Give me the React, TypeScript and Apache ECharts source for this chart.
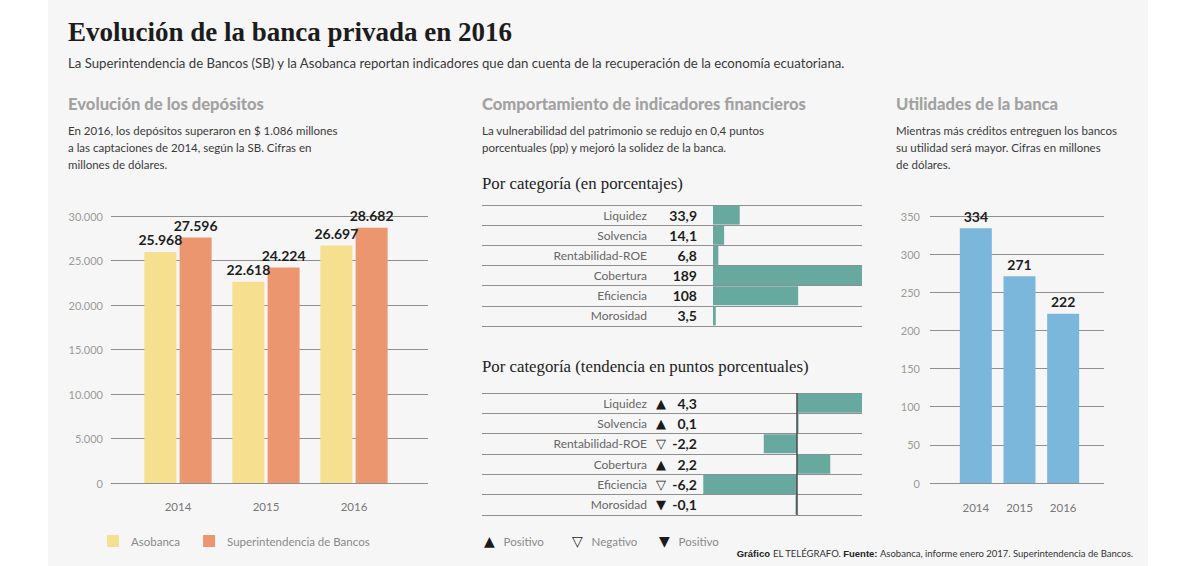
import React, { useEffect, useRef } from "react";
import * as echarts from "echarts";

// Depósitos (millones de dólares)
const years = ["2014", "2015", "2016"];
const asobanca = [25968, 22618, 26697];
const superintendencia = [27596, 24224, 28682];
const depositMin = 0;
const depositMax = 30000;
const depositStep = 5000;

// Indicadores financieros
const indicadores = ["Liquidez", "Solvencia", "Rentabilidad-ROE", "Cobertura", "Eficiencia", "Morosidad"];
const porcentajes = [33.9, 14.1, 6.8, 189, 108, 3.5];
const tendencia = [4.3, 0.1, -2.2, 2.2, -6.2, -0.1];
// ▲ positivo, ▽ negativo, ▼ positivo (baja favorable)
const tendenciaMarca = ["▲", "▲", "▽", "▲", "▽", "▼"];

// Utilidades (millones de dólares)
const utilidades = [334, 271, 222];
const utilMin = 0;
const utilMax = 350;
const utilStep = 50;

const SANS = 'Lato, "Noto Sans", sans-serif';
const SERIF = '"Liberation Serif", "DejaVu Serif", serif';
const SYM = '"DejaVu Sans", sans-serif';

const YELLOW = "#f6df8f";
const ORANGE = "#ec9670";
const TEAL = "#68a99f";
const BLUE = "#7bb7db";
const GRID_LINE = "#8f8f8f";

const miles = (v: number) => String(v).replace(/\B(?=(\d{3})+(?!\d))/g, ".");
const decimal = (v: number) => (Number.isInteger(v) ? String(v) : v.toFixed(1).replace(".", ","));

function text(x: number, y: number, str: string, style: any) {
  return {
    type: "text",
    x,
    y,
    silent: true,
    style: { text: str, fontFamily: SANS, align: "left", verticalAlign: "middle", ...style },
  };
}

export default function App() {
  const ref = useRef<HTMLDivElement>(null);

  useEffect(() => {
    if (!ref.current) return;
    const chart = echarts.init(ref.current, undefined, { renderer: "svg" });

    const descStyle = { fontSize: 11.5, fill: "#3a3a3a", lineHeight: 17, verticalAlign: "top" };
    const headStyle = { fontSize: 16.6, fontWeight: 900, fill: "#a2a2a2" };
    const symRich = { s: { fontFamily: SYM, fontSize: 14, fill: "#1a1a1a" } };

    const option: any = {
      animation: false,
      backgroundColor: "#ffffff",
      textStyle: { fontFamily: SANS },
      graphic: [
        { type: "rect", silent: true, z: -100, shape: { x: 48, y: 0, width: 1100, height: 566 }, style: { fill: "#f6f6f6" } },
        text(68, 32, "Evolución de la banca privada en 2016", {
          fontFamily: SERIF, fontSize: 27, fontWeight: "bold", fill: "#1c1c1c",
        }),
        text(68, 63, "La Superintendencia de Bancos (SB) y la Asobanca reportan indicadores que dan cuenta de la recuperación de la economía ecuatoriana.", {
          fontSize: 13.2, fill: "#3a3a3a",
        }),
        text(68, 104, "Evolución de los depósitos", headStyle),
        text(482, 104, "Comportamiento de indicadores financieros", headStyle),
        text(896, 104, "Utilidades de la banca", headStyle),
        text(68, 122, "En 2016, los depósitos superaron en $ 1.086 millones\na las captaciones de 2014, según la SB. Cifras en\nmillones de dólares.", descStyle),
        text(482, 122, "La vulnerabilidad del patrimonio se redujo en 0,4 puntos\nporcentuales (pp) y mejoró la solidez de la banca.", descStyle),
        text(896, 122, "Mientras más créditos entreguen los bancos\nsu utilidad será mayor. Cifras en millones\nde dólares.", descStyle),
        text(482, 183, "Por categoría (en porcentajes)", { fontFamily: SERIF, fontSize: 16.8, fill: "#222" }),
        text(482, 366, "Por categoría (tendencia en puntos porcentuales)", { fontFamily: SERIF, fontSize: 16.8, fill: "#222" }),
        text(484, 541, "{s|▲}   Positivo", { fontSize: 11.5, fill: "#8a8a8a", rich: symRich }),
        text(572, 541, "{s|▽}   Negativo", { fontSize: 11.5, fill: "#8a8a8a", rich: symRich }),
        text(659, 541, "{s|▼}   Positivo", { fontSize: 11.5, fill: "#8a8a8a", rich: symRich }),
        text(1133, 553, "{b|Gráfico} EL TELÉGRAFO. {b|Fuente:} Asobanca, informe enero 2017. Superintendencia de Bancos.", {
          fontSize: 9.5, fill: "#333", align: "right", rich: { b: { fontWeight: "bold", fontSize: 9.5, fill: "#222" } },
        }),
      ],
      legend: {
        data: ["Asobanca", "Superintendencia de Bancos"],
        left: 102,
        top: 530,
        icon: "rect",
        itemWidth: 12,
        itemHeight: 12,
        itemGap: 23,
        textStyle: { color: "#8a8a8a", fontSize: 11.5, padding: [0, 0, 0, 7] },
      },
      grid: [
        { left: 111, top: 216, width: 317, height: 267 },
        { left: 134, top: 216, width: 264, height: 267 },
        { left: 482, top: 205, width: 380, height: 121 },
        { left: 482, top: 393, width: 380, height: 122 },
        { left: 930, top: 216, width: 174, height: 267 },
        { left: 954, top: 216, width: 131, height: 267 },
      ],
      xAxis: [
        { gridIndex: 0, type: "category", data: years, show: false },
        {
          gridIndex: 1, type: "category", data: years,
          axisLine: { show: false }, axisTick: { show: false },
          axisLabel: { color: "#777", fontSize: 11.5, margin: 17 },
        },
        { gridIndex: 2, type: "value", min: -293, max: 189, show: false },
        { gridIndex: 3, type: "value", min: -20.84, max: 4.3, show: false },
        { gridIndex: 4, type: "category", data: years, show: false },
        {
          gridIndex: 5, type: "category", data: years,
          axisLine: { show: false }, axisTick: { show: false },
          axisLabel: { color: "#777", fontSize: 11.5, margin: 18 },
        },
      ],
      yAxis: [
        {
          gridIndex: 0, type: "value", min: depositMin, max: depositMax, interval: depositStep,
          axisLine: { show: false }, axisTick: { show: false },
          axisLabel: { color: "#9a9a9a", fontSize: 11, margin: 8, formatter: (v: number) => miles(v) },
          splitLine: { lineStyle: { color: GRID_LINE, width: 1 } },
        },
        { gridIndex: 1, type: "value", min: depositMin, max: depositMax, show: false },
        {
          gridIndex: 2, type: "category", data: indicadores, inverse: true,
          offset: -215,
          axisLine: { show: false, onZero: false }, axisTick: { show: false },
          splitLine: { show: true, lineStyle: { color: GRID_LINE, width: 1 } },
          axisLabel: {
            margin: 0,
            formatter: (v: string, i: number) => `{n|${v}}{v|${decimal(porcentajes[i])}}`,
            rich: {
              n: { width: 170, align: "right", fontSize: 12, color: "#666" },
              v: { width: 50, align: "right", fontSize: 14, fontWeight: "bold", color: "#1e1e1e" },
            },
          },
        },
        {
          gridIndex: 3, type: "category", data: indicadores, inverse: true,
          offset: -215,
          axisLine: { show: false, onZero: false }, axisTick: { show: false },
          splitLine: { show: true, lineStyle: { color: GRID_LINE, width: 1 } },
          axisLabel: {
            margin: 0,
            formatter: (v: string, i: number) => `{n|${v}}{t|${tendenciaMarca[i]}}{v|${decimal(tendencia[i])}}`,
            rich: {
              n: { width: 170, align: "right", fontSize: 12, color: "#666" },
              t: { width: 19, align: "right", fontSize: 13, fontFamily: SYM, color: "#1a1a1a" },
              v: { width: 31, align: "right", fontSize: 14, fontWeight: "bold", color: "#1e1e1e" },
            },
          },
        },
        {
          gridIndex: 4, type: "value", min: utilMin, max: utilMax, interval: utilStep,
          axisLine: { show: false }, axisTick: { show: false },
          axisLabel: { color: "#9a9a9a", fontSize: 11, margin: 10 },
          splitLine: { lineStyle: { color: GRID_LINE, width: 1 } },
        },
        { gridIndex: 5, type: "value", min: utilMin, max: utilMax, show: false },
      ],
      series: [
        {
          name: "Asobanca", type: "bar", xAxisIndex: 1, yAxisIndex: 1, data: asobanca,
          barWidth: 32, barGap: "10%", itemStyle: { color: YELLOW },
          label: { show: true, position: "top", distance: 5, fontSize: 14, fontWeight: "bold", color: "#1e1e1e", formatter: (p: any) => miles(p.value) },
        },
        {
          name: "Superintendencia de Bancos", type: "bar", xAxisIndex: 1, yAxisIndex: 1, data: superintendencia,
          barWidth: 32, barGap: "10%", itemStyle: { color: ORANGE },
          label: { show: true, position: "top", distance: 5, fontSize: 14, fontWeight: "bold", color: "#1e1e1e", formatter: (p: any) => miles(p.value) },
        },
        {
          name: "Porcentajes", type: "bar", xAxisIndex: 2, yAxisIndex: 2, data: porcentajes,
          barWidth: 19, itemStyle: { color: TEAL },
        },
        {
          name: "Tendencia", type: "bar", xAxisIndex: 3, yAxisIndex: 3, data: tendencia,
          barWidth: 19, itemStyle: { color: TEAL },
          markLine: {
            silent: true, symbol: "none", label: { show: false },
            lineStyle: { color: "#4a4a4a", width: 1.5, type: "solid" },
            data: [{ xAxis: 0 }],
          },
        },
        {
          name: "Utilidades", type: "bar", xAxisIndex: 5, yAxisIndex: 5, data: utilidades,
          barWidth: 32, itemStyle: { color: BLUE },
          label: { show: true, position: "top", distance: 5, fontSize: 14, fontWeight: "bold", color: "#1e1e1e" },
        },
      ],
    };

    chart.setOption(option);
    return () => chart.dispose();
  }, []);

  return (
    <div
      ref={ref}
      style={{ position: "fixed", left: 0, top: 0, width: 1200, height: 566 }}
    />
  );
}
